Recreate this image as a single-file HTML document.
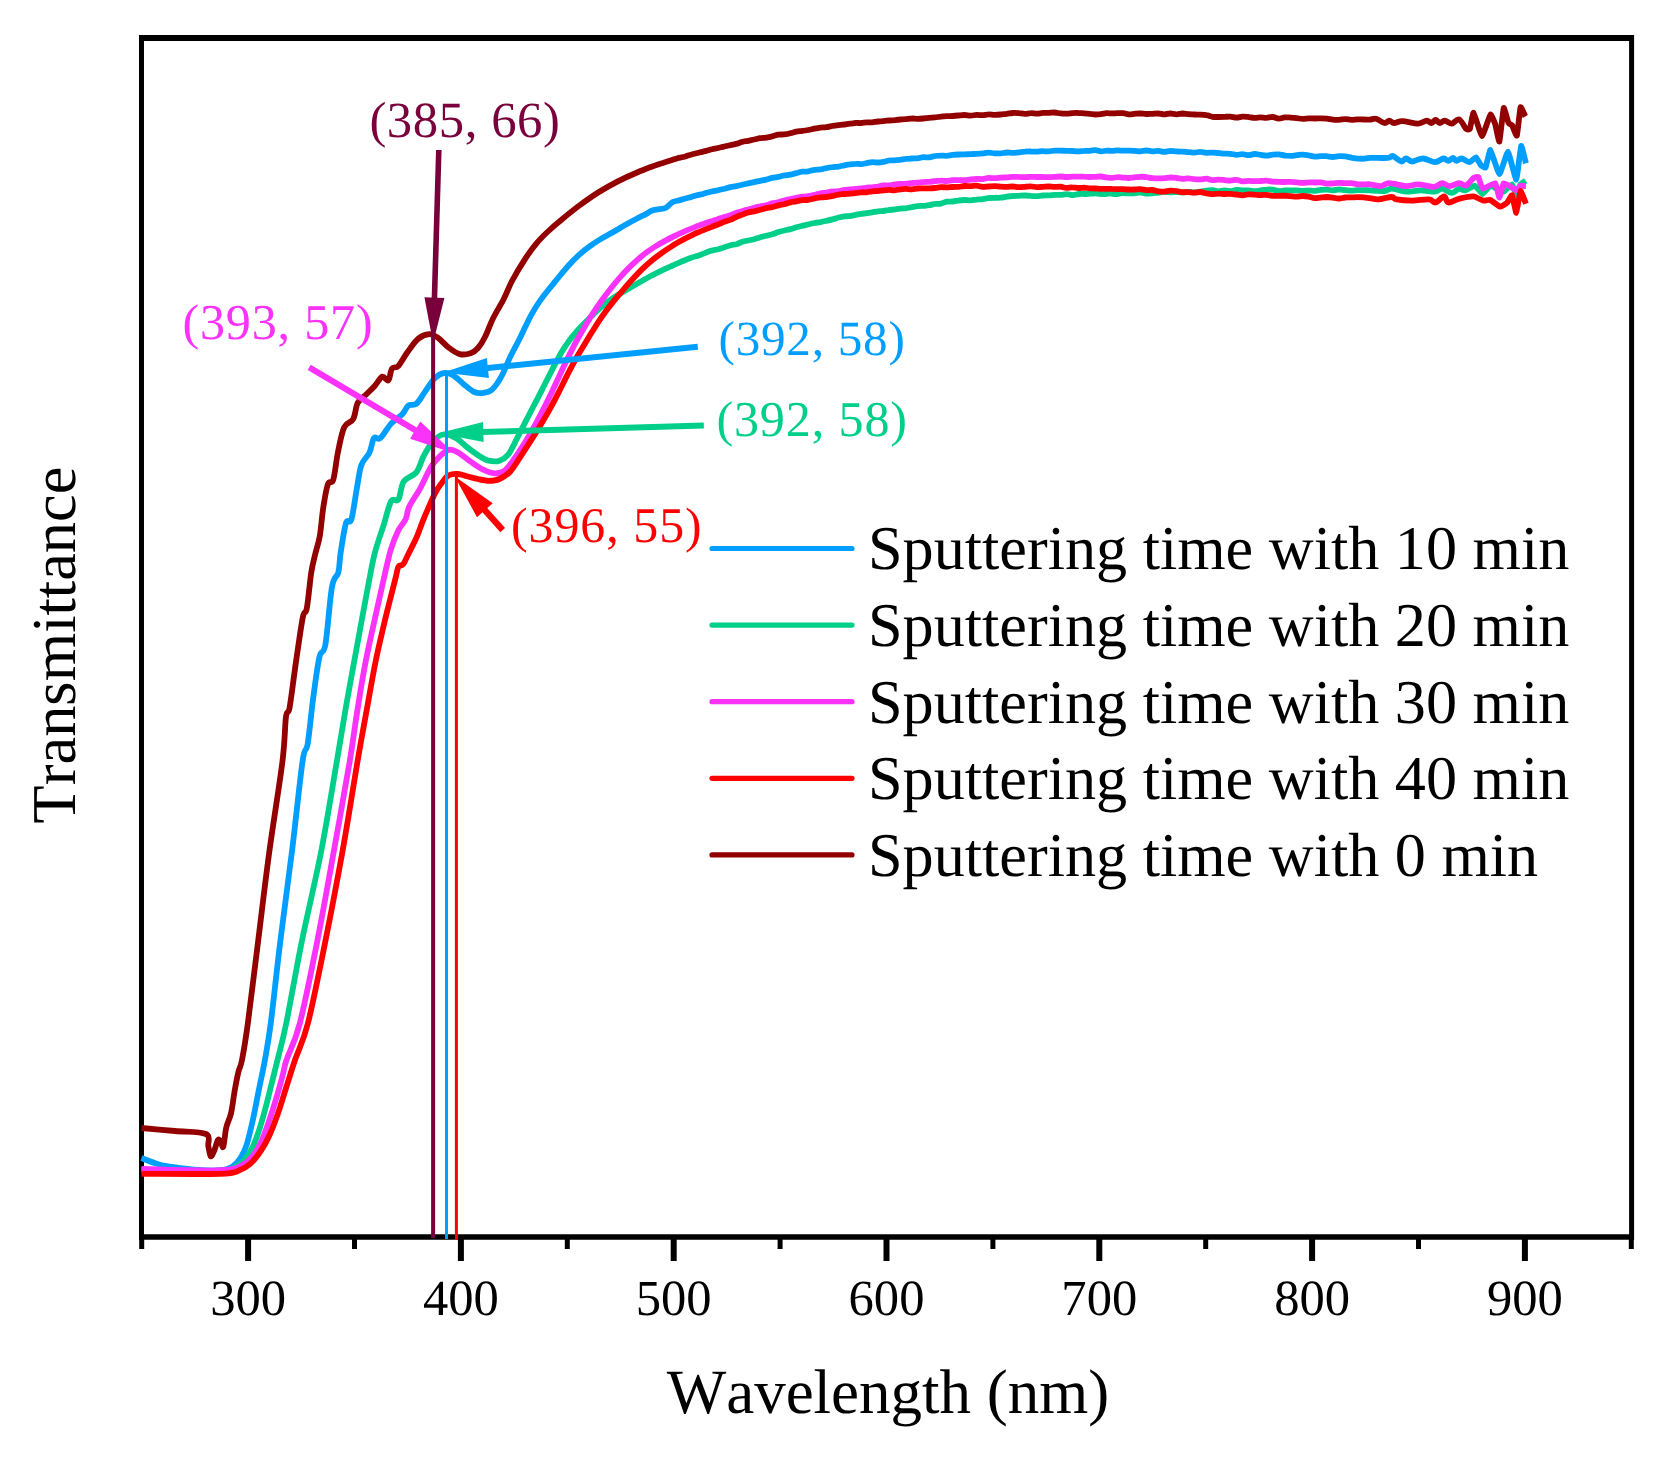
<!DOCTYPE html>
<html lang="en"><head><meta charset="utf-8"><title>Transmittance vs Wavelength</title>
<style>html,body{margin:0;padding:0;background:#fff}body{width:1661px;height:1458px;overflow:hidden}</style>
</head><body>
<svg width="1661" height="1458" viewBox="0 0 1661 1458" style="display:block;font-family:'Liberation Serif','Times New Roman',serif;font-kerning:none" text-rendering="geometricPrecision">
<rect width="1661" height="1458" fill="#fff"/>
<path d="M139,38H1634" stroke="#000" stroke-width="6" fill="none"/>
<path d="M141.5,35V1240" stroke="#000" stroke-width="5" fill="none"/>
<path d="M1631.6,35V1240" stroke="#000" stroke-width="5" fill="none"/>
<path d="M139,1237H1634" stroke="#000" stroke-width="5.5" fill="none"/>
<path d="M141.4,1158.1C144.5,1159.2 154.0,1163.2 160.1,1164.8C166.2,1166.4 171.2,1166.9 178.2,1167.8C185.2,1168.7 195.2,1169.8 202.2,1170.2C209.2,1170.6 215.3,1170.8 220.3,1170.2C225.3,1169.6 228.9,1168.7 232.3,1166.6C235.7,1164.5 238.4,1161.2 240.8,1157.5C243.2,1153.8 244.8,1150.5 246.8,1144.3C248.8,1138.1 250.8,1129.2 252.8,1120.2C254.8,1111.2 256.8,1100.1 258.8,1090.1C260.8,1080.1 262.9,1071.2 264.9,1060.0C266.9,1048.8 268.2,1042.9 270.8,1023.0C273.4,1003.1 276.8,969.4 280.4,940.6C283.9,911.8 288.4,880.2 292.1,850.3C295.8,820.4 300.0,778.8 302.6,761.0C305.2,743.2 305.9,754.2 307.7,743.8C309.4,733.4 311.2,713.2 313.1,698.7C315.1,684.2 317.3,666.1 319.4,657.1C321.4,648.1 323.3,656.2 325.4,644.5C327.5,632.8 329.8,598.8 332.0,586.7C334.2,574.7 337.0,577.8 338.4,572.2C339.8,566.6 339.3,561.2 340.6,553.0C341.9,544.8 344.2,528.6 346.0,523.0C347.8,517.4 349.6,525.1 351.4,519.4C353.2,513.7 355.1,497.7 356.8,488.7C358.5,479.7 359.2,471.2 361.3,465.2C363.4,459.2 367.4,457.0 369.5,452.5C371.6,448.0 372.2,440.5 374.0,438.1C375.8,435.7 377.4,440.5 380.3,438.1C383.2,435.7 387.5,427.5 391.1,423.6C394.7,419.7 399.1,417.6 402.0,414.6C404.9,411.6 405.9,407.4 408.3,405.6C410.7,403.8 413.5,406.2 416.4,403.8C419.2,401.4 422.4,395.3 425.4,391.1C428.4,386.9 431.5,381.5 434.5,378.5C437.5,375.5 440.5,373.7 443.5,373.1C446.5,372.5 449.2,373.1 452.5,374.9C455.8,376.7 459.8,381.0 463.4,383.9C467.0,386.8 470.9,390.5 474.2,392.0C477.5,393.5 480.2,393.3 483.2,392.9C486.2,392.4 489.3,392.0 492.3,389.3C495.3,386.6 498.3,382.1 501.3,376.7C504.3,371.3 507.5,362.7 510.3,356.8C513.1,350.9 515.8,346.3 518.2,341.5C520.7,336.6 522.8,332.0 524.9,327.6C527.1,323.3 528.9,319.2 531.0,315.4C533.1,311.5 535.2,308.0 537.5,304.5C539.7,301.1 542.0,298.0 544.5,294.8C546.9,291.6 549.5,288.5 552.1,285.2C554.8,281.9 557.6,278.4 560.6,274.9C563.5,271.4 566.6,267.7 569.7,264.3C572.8,260.9 576.1,257.6 579.3,254.7C582.5,251.8 585.7,249.2 588.9,246.9C592.1,244.5 595.3,242.4 598.5,240.4C601.7,238.4 605.0,236.6 608.2,234.8C611.4,233.0 614.6,231.2 617.8,229.4C621.0,227.5 624.2,225.6 627.4,223.8C630.6,222.0 633.9,220.2 637.1,218.5C640.3,216.8 644.3,214.9 646.7,213.6C649.1,212.3 649.5,211.4 651.5,210.7C653.5,210.0 656.3,209.7 658.8,209.2C661.2,208.8 663.7,209.0 666.0,207.8C668.3,206.6 670.5,203.2 672.7,202.0C674.9,200.8 676.9,200.9 679.0,200.4C681.0,199.8 683.1,199.1 685.2,198.5C687.3,197.9 689.3,197.6 691.3,197.0C693.3,196.5 695.3,195.6 697.4,195.1C699.4,194.5 701.3,194.3 703.5,193.8C705.7,193.2 708.2,192.3 710.5,191.7C712.9,191.1 715.2,190.8 717.6,190.3C719.9,189.8 722.5,189.2 724.6,188.7C726.8,188.1 728.6,187.6 730.5,187.1C732.5,186.7 734.5,186.6 736.4,186.2C738.4,185.8 740.4,185.3 742.3,184.8C744.3,184.3 746.2,183.7 748.2,183.3C750.2,182.9 752.2,182.5 754.2,182.1C756.2,181.7 758.2,181.2 760.2,180.8C762.2,180.4 764.2,180.1 766.2,179.6C768.2,179.1 770.2,178.4 772.2,177.9C774.3,177.4 776.3,177.3 778.3,176.9C780.3,176.5 782.3,175.7 784.3,175.4C786.3,175.0 788.3,175.1 790.3,174.7C792.3,174.4 794.3,173.6 796.3,173.1C798.3,172.6 800.3,172.0 802.3,171.7C804.3,171.5 806.3,171.8 808.3,171.4C810.4,171.1 812.4,170.1 814.4,169.8C816.4,169.4 818.4,169.7 820.4,169.4C822.4,169.1 824.4,168.4 826.4,168.1C828.4,167.7 830.4,167.4 832.5,167.2C834.5,166.9 836.5,166.9 838.5,166.6C840.5,166.3 842.6,165.7 844.5,165.3C846.4,164.9 848.2,164.5 850.0,164.3C851.9,164.0 853.8,163.8 855.6,163.8C857.5,163.7 859.3,164.2 861.1,164.1C863.0,164.0 864.9,163.4 866.7,163.1C868.6,162.8 870.4,162.2 872.2,162.1C874.1,162.0 875.9,162.5 877.8,162.5C879.6,162.5 881.5,162.3 883.4,161.9C885.2,161.6 887.0,160.8 888.9,160.5C890.8,160.2 892.6,160.4 894.5,160.3C896.3,160.2 898.1,160.0 900.0,159.8C901.9,159.6 903.9,159.1 905.8,158.9C907.8,158.6 909.7,158.6 911.7,158.5C913.6,158.4 915.6,158.5 917.5,158.3C919.4,158.1 921.4,157.4 923.3,157.2C925.3,157.1 927.2,157.5 929.2,157.3C931.1,157.1 933.1,156.3 935.0,156.0C936.9,155.7 938.9,155.6 940.8,155.6C942.8,155.6 944.7,155.9 946.7,155.8C948.6,155.7 950.5,155.1 952.5,154.9C954.5,154.7 956.5,154.6 958.5,154.5C960.5,154.4 962.5,154.3 964.5,154.3C966.6,154.2 968.6,154.3 970.6,154.2C972.6,154.1 974.6,153.9 976.6,153.8C978.6,153.7 980.6,153.6 982.6,153.4C984.6,153.2 986.6,152.7 988.6,152.7C990.6,152.7 992.6,153.2 994.7,153.3C996.7,153.4 998.7,153.5 1000.7,153.4C1002.7,153.2 1004.7,152.6 1006.7,152.5C1008.7,152.4 1010.7,152.9 1012.7,152.9C1014.7,152.9 1016.7,152.5 1018.7,152.3C1020.7,152.1 1022.7,151.8 1024.8,151.7C1026.8,151.5 1028.8,151.4 1030.8,151.5C1032.8,151.5 1034.8,151.7 1036.8,151.7C1038.8,151.6 1040.8,151.2 1042.8,151.2C1044.8,151.2 1046.7,151.5 1048.7,151.4C1050.7,151.3 1052.6,150.7 1054.6,150.6C1056.6,150.4 1058.5,150.6 1060.5,150.7C1062.5,150.7 1064.4,150.8 1066.4,150.8C1068.4,150.9 1070.3,150.9 1072.3,151.0C1074.3,151.1 1076.2,151.4 1078.2,151.3C1080.2,151.3 1082.1,150.9 1084.1,150.9C1086.1,150.8 1088.1,150.9 1090.0,150.8C1091.9,150.7 1093.7,150.0 1095.5,150.1C1097.4,150.2 1099.2,151.2 1101.0,151.3C1102.9,151.4 1104.7,150.8 1106.6,150.7C1108.4,150.6 1110.3,150.9 1112.1,150.8C1113.9,150.8 1115.8,150.4 1117.6,150.4C1119.5,150.4 1121.3,150.6 1123.2,150.7C1125.0,150.7 1126.8,150.6 1128.7,150.6C1130.5,150.6 1132.3,150.7 1134.2,150.8C1136.1,150.9 1138.2,151.4 1140.2,151.4C1142.2,151.3 1144.2,150.5 1146.2,150.5C1148.3,150.5 1150.3,151.2 1152.3,151.3C1154.3,151.4 1156.3,150.8 1158.3,150.9C1160.3,151.0 1162.3,151.8 1164.3,151.8C1166.3,151.8 1168.3,151.0 1170.3,150.9C1172.3,150.9 1174.3,151.3 1176.4,151.4C1178.4,151.6 1180.4,151.6 1182.4,151.7C1184.4,151.8 1186.4,152.0 1188.4,152.1C1190.4,152.2 1192.4,152.6 1194.4,152.6C1196.4,152.5 1198.4,151.8 1200.4,151.9C1202.4,151.9 1204.4,152.7 1206.5,152.8C1208.5,152.9 1210.5,152.6 1212.5,152.6C1214.5,152.6 1216.5,152.8 1218.5,153.0C1220.5,153.1 1222.5,153.5 1224.5,153.6C1226.5,153.7 1228.5,153.6 1230.5,153.8C1232.5,154.0 1234.5,154.7 1236.5,154.8C1238.5,154.9 1240.5,154.1 1242.5,154.2C1244.6,154.2 1246.6,155.2 1248.6,155.2C1250.6,155.2 1252.6,154.1 1254.6,154.0C1256.6,153.9 1258.6,154.5 1260.6,154.8C1262.6,155.1 1264.6,155.6 1266.6,155.6C1268.6,155.6 1270.6,154.9 1272.6,154.7C1274.6,154.5 1276.6,154.3 1278.7,154.4C1280.7,154.6 1282.7,155.3 1284.7,155.5C1286.7,155.8 1288.7,155.9 1290.7,155.9C1292.7,155.8 1294.7,155.4 1296.7,155.2C1298.7,155.0 1300.7,154.6 1302.7,154.6C1304.7,154.6 1306.7,155.0 1308.7,155.4C1310.7,155.7 1312.7,156.5 1314.8,156.6C1316.8,156.7 1318.8,156.2 1320.8,156.1C1322.8,156.0 1324.8,156.1 1326.8,156.2C1328.8,156.4 1330.8,157.0 1332.8,157.0C1334.8,157.0 1336.9,156.3 1339.0,156.2C1341.1,156.1 1343.1,156.2 1345.2,156.4C1347.3,156.7 1349.3,157.3 1351.4,157.7C1353.5,158.0 1355.5,158.4 1357.6,158.6C1359.7,158.7 1361.7,158.9 1363.8,158.7C1365.9,158.6 1366.0,158.0 1370.0,157.9C1374.0,157.8 1384.3,158.2 1388.1,157.9C1391.9,157.6 1390.7,155.5 1392.9,156.1C1395.1,156.7 1399.1,161.1 1401.3,161.5C1403.5,161.9 1404.3,158.5 1406.1,158.5C1407.9,158.5 1409.3,161.5 1412.1,161.5C1414.9,161.5 1419.2,158.4 1423.0,158.5C1426.8,158.6 1431.6,162.1 1435.0,162.1C1438.4,162.1 1441.2,158.7 1443.4,158.5C1445.6,158.3 1446.7,161.0 1448.3,160.9C1449.9,160.8 1451.7,157.9 1453.1,157.9C1454.5,157.9 1455.3,160.8 1456.7,160.9C1458.1,161.0 1459.3,158.3 1461.5,158.5C1463.7,158.7 1467.5,162.3 1469.9,162.1C1470.8,162.0 1475.3,157.1 1476.0,157.3C1476.7,157.5 1480.2,164.5 1480.8,165.1C1481.4,165.7 1485.0,168.4 1485.6,167.5C1486.2,166.6 1489.6,149.7 1490.4,150.1C1491.2,150.5 1498.4,174.1 1499.4,174.2C1500.5,174.3 1506.9,151.6 1507.9,151.9C1508.9,152.2 1515.5,180.0 1516.3,179.6C1517.1,179.2 1520.5,146.9 1521.1,145.9C1521.7,144.9 1525.6,162.3 1525.9,163.3" fill="none" stroke="#009EFF" stroke-width="5.8" stroke-linejoin="round" stroke-linecap="butt"/>
<path d="M141.5,1170.0C151.2,1170.2 185.6,1171.5 200.0,1171.5C214.4,1171.5 222.0,1170.8 228.0,1170.0C234.0,1169.2 233.3,1168.2 236.0,1166.5C238.7,1164.8 241.6,1163.3 244.4,1160.0C247.2,1156.7 250.2,1152.1 252.8,1146.7C255.4,1141.3 257.8,1134.2 260.0,1127.4C262.2,1120.6 264.1,1113.4 266.1,1105.8C268.1,1098.2 270.2,1089.3 272.1,1081.7C274.0,1074.1 275.1,1069.8 277.5,1060.0C279.9,1050.2 282.2,1042.9 286.3,1023.0C290.4,1003.1 296.1,969.4 302.0,940.6C307.9,911.8 315.6,880.2 321.4,850.3C327.2,820.4 332.6,786.3 336.9,761.0C341.2,735.7 344.0,718.1 347.4,698.7C350.8,679.3 354.0,662.6 357.3,644.5C360.6,626.4 364.4,605.3 367.3,590.3C370.2,575.2 371.8,565.0 374.5,554.2C377.2,543.4 380.7,534.3 383.5,525.5C386.3,516.7 388.6,505.6 391.1,501.3C393.6,497.0 396.3,502.8 398.4,499.5C400.5,496.2 400.8,485.9 403.8,481.4C406.8,476.9 413.1,476.6 416.4,472.4C419.7,468.2 420.9,461.3 423.6,456.2C426.3,451.1 429.4,445.3 432.7,441.7C436.0,438.1 439.6,435.1 443.5,434.5C447.4,433.9 452.2,436.0 456.1,438.1C460.0,440.2 463.1,444.1 467.0,447.1C470.9,450.1 476.0,453.9 479.6,456.2C483.2,458.5 485.4,459.9 488.7,460.7C492.0,461.4 496.2,461.8 499.5,460.7C502.8,459.6 505.5,458.2 508.5,454.3C511.5,450.4 514.5,443.1 517.4,437.6C520.3,432.0 523.0,426.6 525.8,421.1C528.6,415.7 531.3,410.4 534.2,404.9C537.1,399.4 540.1,393.5 542.9,388.0C545.8,382.4 548.6,376.6 551.2,371.6C553.8,366.5 556.1,361.9 558.5,357.7C560.8,353.4 563.0,349.6 565.5,346.0C567.9,342.3 570.4,339.0 573.1,335.6C575.9,332.3 578.8,329.1 581.9,325.8C585.0,322.5 588.3,319.2 591.7,316.0C595.0,312.8 598.5,309.4 601.9,306.6C605.3,303.7 608.7,301.0 612.0,298.7C615.3,296.4 618.4,294.6 621.6,292.7C624.8,290.8 627.8,289.1 631.0,287.2C634.3,285.4 637.6,283.4 641.0,281.5C644.3,279.6 647.8,277.6 651.2,275.8C654.5,274.0 657.8,272.4 661.1,270.8C664.4,269.3 667.6,267.8 670.8,266.4C674.0,264.9 677.1,263.5 680.4,262.1C683.8,260.7 688.0,258.8 691.0,257.8C693.9,256.7 695.7,256.5 698.1,255.7C700.5,254.9 702.9,253.8 705.2,252.9C707.5,252.1 709.6,251.3 711.8,250.6C713.9,250.0 716.1,249.8 718.3,249.2C720.5,248.6 722.8,247.8 724.9,247.1C726.9,246.4 728.8,245.7 730.7,245.2C732.7,244.7 734.6,244.7 736.5,244.2C738.5,243.6 740.4,242.4 742.4,241.8C744.3,241.2 746.2,240.9 748.2,240.5C750.2,240.1 752.2,239.7 754.2,239.2C756.2,238.6 758.2,237.9 760.2,237.3C762.2,236.8 764.2,236.3 766.2,235.8C768.2,235.3 770.2,235.0 772.2,234.3C774.3,233.7 776.3,232.7 778.3,232.0C780.3,231.4 782.3,230.9 784.3,230.5C786.3,230.0 788.3,229.7 790.3,229.1C792.3,228.6 794.3,227.9 796.3,227.3C798.3,226.7 800.3,226.2 802.3,225.7C804.3,225.3 806.3,224.8 808.3,224.4C810.4,223.9 812.4,223.3 814.4,223.0C816.4,222.6 818.4,222.5 820.4,222.2C822.4,221.8 824.4,221.3 826.4,220.8C828.4,220.4 830.4,220.0 832.5,219.4C834.5,218.9 836.5,218.0 838.5,217.5C840.5,217.0 842.6,216.6 844.5,216.4C846.4,216.2 848.2,216.3 850.0,216.0C851.9,215.8 853.8,215.2 855.6,214.9C857.5,214.5 859.3,214.1 861.1,213.8C863.0,213.5 864.9,213.5 866.7,213.2C868.6,213.0 870.4,212.7 872.2,212.4C874.1,212.1 875.9,211.5 877.8,211.3C879.6,211.0 881.5,211.2 883.4,211.0C885.2,210.8 887.0,210.3 888.9,210.0C890.8,209.8 892.6,209.7 894.5,209.5C896.3,209.2 898.1,208.8 900.0,208.6C901.9,208.4 903.9,208.5 905.8,208.3C907.8,208.0 909.7,207.5 911.7,207.2C913.6,206.8 915.6,206.3 917.5,206.1C919.4,205.9 921.4,206.0 923.3,205.9C925.3,205.7 927.2,205.6 929.2,205.2C931.1,204.9 933.1,204.1 935.0,203.9C936.9,203.6 938.9,204.0 940.8,203.6C942.8,203.2 944.7,202.1 946.7,201.7C948.6,201.4 950.5,201.7 952.5,201.5C954.5,201.3 956.5,200.8 958.5,200.5C960.5,200.3 962.5,200.1 964.5,200.0C966.6,200.0 968.6,200.5 970.6,200.4C972.6,200.4 974.6,199.8 976.6,199.6C978.6,199.4 980.6,199.4 982.6,199.1C984.6,198.8 986.6,198.3 988.6,198.0C990.6,197.8 992.6,197.8 994.7,197.8C996.7,197.7 998.7,197.9 1000.7,197.7C1002.7,197.6 1004.7,197.0 1006.7,196.7C1008.7,196.4 1010.7,196.1 1012.7,196.0C1014.7,195.8 1016.7,195.9 1018.7,195.8C1020.7,195.7 1022.7,195.5 1024.8,195.5C1026.8,195.5 1028.8,195.7 1030.8,195.9C1032.8,196.0 1034.8,196.2 1036.8,196.2C1038.8,196.1 1040.8,195.6 1042.8,195.5C1044.8,195.4 1046.8,195.5 1048.8,195.4C1050.8,195.3 1052.8,195.0 1054.9,194.9C1056.9,194.9 1058.9,195.0 1060.9,194.9C1062.9,194.7 1064.9,194.2 1066.9,194.2C1068.9,194.2 1070.9,195.1 1072.9,195.1C1075.0,195.0 1077.0,194.2 1079.0,194.0C1081.0,193.8 1083.0,194.1 1085.0,194.0C1087.0,193.9 1089.1,193.6 1091.2,193.5C1093.2,193.5 1095.2,193.4 1097.3,193.5C1099.3,193.7 1101.4,194.2 1103.5,194.2C1105.5,194.2 1107.5,193.4 1109.6,193.4C1111.6,193.4 1113.7,194.2 1115.8,194.2C1117.8,194.1 1119.9,193.4 1121.9,193.2C1124.0,193.1 1126.0,193.3 1128.0,193.3C1130.1,193.3 1132.2,193.4 1134.2,193.3C1136.2,193.2 1138.2,192.4 1140.2,192.5C1142.2,192.5 1144.2,193.5 1146.2,193.6C1148.3,193.7 1150.3,193.4 1152.3,193.3C1154.3,193.1 1156.3,192.8 1158.3,192.6C1160.3,192.4 1162.3,191.9 1164.3,191.9C1166.3,191.8 1168.3,192.3 1170.3,192.3C1172.3,192.3 1174.3,191.9 1176.4,191.9C1178.4,192.0 1180.4,192.5 1182.4,192.5C1184.4,192.5 1186.4,191.8 1188.4,191.8C1190.4,191.8 1192.4,192.3 1194.4,192.3C1196.4,192.3 1198.4,192.0 1200.4,191.7C1202.4,191.5 1204.4,191.0 1206.5,190.7C1208.5,190.5 1210.5,190.0 1212.5,190.1C1214.5,190.2 1216.5,191.3 1218.5,191.3C1220.5,191.4 1222.5,190.4 1224.5,190.4C1226.5,190.4 1228.5,191.3 1230.5,191.2C1232.5,191.1 1234.5,189.9 1236.5,189.8C1238.5,189.7 1240.5,190.3 1242.5,190.4C1244.6,190.5 1246.6,190.2 1248.6,190.4C1250.6,190.5 1252.6,191.2 1254.6,191.2C1256.6,191.3 1258.6,190.7 1260.6,190.4C1262.6,190.1 1264.6,189.7 1266.6,189.6C1268.6,189.4 1270.6,189.4 1272.6,189.6C1274.6,189.8 1276.6,190.9 1278.7,191.0C1280.7,191.2 1282.7,190.6 1284.7,190.5C1286.7,190.4 1288.7,190.4 1290.7,190.3C1292.7,190.3 1294.7,190.3 1296.7,190.4C1298.7,190.5 1300.7,190.9 1302.7,190.9C1304.7,190.9 1306.7,190.6 1308.7,190.6C1310.7,190.5 1312.7,190.9 1314.8,190.8C1316.8,190.7 1318.8,190.1 1320.8,189.9C1322.8,189.7 1324.8,189.5 1326.8,189.6C1328.8,189.7 1330.8,190.4 1332.8,190.4C1334.8,190.4 1336.9,189.5 1339.0,189.4C1341.1,189.4 1343.1,189.9 1345.2,190.1C1347.3,190.3 1349.3,190.7 1351.4,190.7C1353.5,190.7 1355.5,190.3 1357.6,190.2C1359.7,190.1 1361.7,190.1 1363.8,190.1C1365.9,190.1 1366.6,190.2 1370.0,190.4C1373.4,190.6 1380.8,191.3 1384.4,191.0C1388.0,190.7 1388.1,188.5 1391.7,188.6C1395.3,188.7 1401.3,191.3 1406.1,191.6C1410.9,191.9 1415.8,190.4 1420.6,190.4C1425.4,190.4 1431.4,191.9 1435.0,191.6C1438.6,191.3 1439.4,188.4 1442.2,188.6C1445.0,188.8 1449.1,192.8 1451.9,192.8C1454.7,192.8 1456.9,189.0 1459.1,188.6C1461.3,188.2 1462.5,190.9 1465.1,190.4C1466.0,190.2 1473.8,185.4 1474.8,185.6C1475.8,185.8 1481.7,194.0 1482.6,194.0C1483.5,194.0 1489.4,185.8 1490.4,185.6C1491.4,185.4 1498.6,190.0 1499.4,190.4C1500.2,190.8 1502.9,192.0 1503.7,191.6C1504.5,191.2 1511.3,184.2 1512.1,184.4C1512.9,184.6 1515.8,195.2 1516.3,195.2C1516.8,195.2 1519.9,185.3 1520.5,184.4C1521.1,183.5 1525.6,181.0 1525.9,180.8" fill="none" stroke="#00CF8A" stroke-width="5.8" stroke-linejoin="round" stroke-linecap="butt"/>
<path d="M141.5,1169.0C151.2,1169.2 186.1,1170.3 200.0,1170.5C213.9,1170.7 218.6,1170.5 225.0,1170.0C231.4,1169.5 234.2,1169.1 238.4,1167.2C242.6,1165.3 246.8,1162.5 250.4,1158.7C254.0,1154.9 257.0,1150.3 260.0,1144.3C263.0,1138.3 265.7,1130.6 268.5,1122.6C271.3,1114.6 274.5,1104.1 276.9,1096.1C279.3,1088.1 281.3,1080.4 282.9,1074.4C284.5,1068.4 283.7,1068.6 286.5,1060.0C289.3,1051.4 294.8,1042.9 299.9,1023.0C305.0,1003.1 311.7,969.4 317.4,940.6C323.1,911.8 328.6,880.2 334.0,850.3C339.4,820.4 346.1,783.3 349.8,761.0C353.5,738.7 353.8,733.1 356.4,716.7C359.0,700.3 362.0,680.5 365.5,662.5C369.0,644.5 373.9,623.4 377.2,608.4C380.5,593.4 383.0,582.1 385.3,572.2C387.6,562.3 388.8,556.0 391.0,549.0C393.2,542.0 396.0,535.1 398.4,530.2C400.8,525.3 403.8,523.3 405.6,519.4C407.4,515.5 406.8,511.8 409.2,506.7C411.6,501.6 416.4,495.3 420.0,488.7C423.6,482.1 427.6,472.4 430.9,467.0C434.2,461.6 436.9,459.1 439.9,456.2C442.9,453.3 445.9,450.4 448.9,449.8C451.9,449.2 454.4,450.5 458.0,452.5C461.6,454.5 466.4,458.7 470.6,461.6C474.8,464.5 479.3,467.8 483.2,469.7C487.1,471.6 490.5,473.1 494.1,473.3C497.7,473.5 501.1,473.6 504.9,470.6C508.6,467.6 512.6,461.2 516.6,455.3C520.6,449.5 525.0,442.6 529.1,435.6C533.3,428.5 537.6,420.2 541.5,412.8C545.3,405.4 548.9,398.0 552.1,391.4C555.3,384.8 558.0,378.7 560.6,373.2C563.2,367.6 565.5,362.7 567.8,358.0C570.1,353.2 572.3,349.0 574.6,344.6C576.9,340.2 579.3,335.9 581.8,331.7C584.3,327.4 586.9,323.0 589.4,319.0C591.9,314.9 594.5,311.0 596.9,307.4C599.3,303.8 601.6,300.6 603.9,297.5C606.2,294.3 608.3,291.5 610.8,288.5C613.2,285.4 615.8,282.2 618.5,279.0C621.3,275.8 624.4,272.4 627.5,269.2C630.6,266.1 633.9,263.0 637.1,260.1C640.3,257.3 643.5,254.7 646.7,252.3C649.9,249.9 653.1,247.9 656.3,245.9C659.5,243.9 662.8,242.1 666.0,240.4C669.2,238.7 672.4,237.0 675.6,235.5C678.8,233.9 682.0,232.4 685.2,231.1C688.4,229.7 692.3,228.1 694.9,227.1C697.4,226.1 698.6,225.5 700.4,224.9C702.3,224.2 704.1,223.6 706.0,222.9C707.9,222.3 709.9,221.8 711.8,221.2C713.7,220.6 715.6,219.9 717.5,219.3C719.5,218.6 721.3,217.9 723.3,217.2C725.3,216.6 727.4,216.3 729.5,215.6C731.6,214.9 733.7,213.9 735.7,213.1C737.8,212.4 739.9,211.8 742.0,211.2C744.0,210.6 746.2,210.1 748.2,209.5C750.2,208.9 752.2,208.3 754.2,207.8C756.2,207.2 758.2,206.8 760.2,206.4C762.2,205.9 764.2,205.8 766.2,205.3C768.2,204.8 770.2,203.9 772.2,203.3C774.3,202.8 776.3,202.7 778.3,202.2C780.3,201.7 782.3,201.0 784.3,200.5C786.3,200.0 788.3,199.5 790.3,199.1C792.3,198.6 794.3,198.2 796.3,197.8C798.3,197.4 800.3,197.0 802.3,196.7C804.3,196.5 806.3,196.4 808.3,196.1C810.4,195.8 812.4,195.4 814.4,194.9C816.4,194.4 818.4,193.7 820.4,193.3C822.4,193.0 824.4,192.9 826.4,192.6C828.4,192.3 830.4,191.7 832.5,191.5C834.5,191.2 836.5,191.4 838.5,191.2C840.5,190.9 842.6,190.1 844.5,189.8C846.4,189.5 848.2,189.7 850.0,189.5C851.9,189.4 853.8,189.1 855.6,188.9C857.5,188.7 859.3,188.6 861.1,188.4C863.0,188.2 864.9,187.9 866.7,187.7C868.6,187.5 870.4,187.5 872.2,187.3C874.1,187.1 875.9,186.9 877.8,186.6C879.6,186.2 881.5,185.6 883.4,185.4C885.2,185.2 887.0,185.6 888.9,185.5C890.8,185.3 892.6,184.7 894.5,184.5C896.3,184.2 898.1,184.0 900.0,183.9C901.9,183.8 903.9,183.9 905.8,183.8C907.8,183.6 909.7,183.3 911.7,183.1C913.6,183.0 915.6,182.8 917.5,182.6C919.4,182.4 921.4,182.2 923.3,182.1C925.3,182.0 927.2,181.9 929.2,181.8C931.1,181.6 933.1,181.4 935.0,181.2C936.9,181.0 938.9,180.6 940.8,180.6C942.8,180.5 944.7,181.0 946.7,181.0C948.6,180.9 950.5,180.3 952.5,180.2C954.5,180.1 956.5,180.3 958.5,180.2C960.5,180.2 962.5,180.3 964.5,180.2C966.6,180.0 968.6,179.7 970.6,179.5C972.6,179.3 974.6,179.1 976.6,179.0C978.6,178.9 980.6,179.1 982.6,179.0C984.6,178.8 986.6,178.0 988.6,177.9C990.6,177.8 992.6,178.3 994.7,178.2C996.7,178.2 998.7,177.8 1000.7,177.6C1002.7,177.5 1004.7,177.5 1006.7,177.4C1008.7,177.3 1010.7,177.0 1012.7,176.9C1014.7,176.8 1016.7,176.8 1018.7,176.9C1020.7,176.9 1022.7,177.2 1024.8,177.2C1026.8,177.2 1028.8,176.8 1030.8,176.8C1032.8,176.8 1034.8,177.0 1036.8,177.0C1038.8,177.0 1040.8,177.0 1042.8,177.0C1044.8,177.0 1046.7,177.2 1048.7,177.1C1050.7,177.1 1052.6,177.0 1054.6,176.9C1056.6,176.7 1058.5,176.5 1060.5,176.5C1062.5,176.5 1064.4,177.0 1066.4,177.0C1068.4,177.0 1070.3,176.7 1072.3,176.6C1074.3,176.6 1076.2,176.6 1078.2,176.6C1080.2,176.6 1082.1,176.5 1084.1,176.6C1086.1,176.6 1088.1,177.0 1090.0,177.0C1091.9,177.0 1093.7,176.9 1095.5,176.9C1097.4,176.8 1099.2,176.4 1101.0,176.5C1102.9,176.6 1104.7,177.1 1106.6,177.4C1108.4,177.6 1110.3,177.9 1112.1,177.9C1113.9,177.8 1115.8,177.1 1117.6,177.1C1119.5,177.0 1121.3,177.5 1123.2,177.6C1125.0,177.8 1126.8,178.1 1128.7,178.0C1130.5,178.0 1132.3,177.6 1134.2,177.4C1136.1,177.2 1138.2,176.9 1140.2,176.8C1142.2,176.7 1144.2,176.8 1146.2,177.0C1148.3,177.3 1150.3,178.0 1152.3,178.2C1154.3,178.4 1156.3,178.3 1158.3,178.3C1160.3,178.3 1162.3,178.3 1164.3,178.1C1166.3,178.0 1168.3,177.5 1170.3,177.5C1172.3,177.4 1174.3,177.7 1176.4,178.0C1178.4,178.2 1180.4,178.7 1182.4,178.8C1184.4,178.9 1186.4,178.2 1188.4,178.3C1190.4,178.4 1192.4,179.1 1194.4,179.2C1196.4,179.4 1198.4,179.5 1200.4,179.4C1202.4,179.3 1204.4,178.6 1206.5,178.7C1208.5,178.8 1210.5,180.0 1212.5,180.1C1214.5,180.2 1216.5,179.6 1218.5,179.6C1220.5,179.6 1222.5,179.9 1224.5,180.1C1226.5,180.3 1228.5,180.7 1230.5,180.6C1232.5,180.6 1234.5,179.6 1236.5,179.8C1238.5,179.9 1240.5,181.2 1242.5,181.4C1244.6,181.6 1246.6,180.9 1248.6,180.9C1250.6,180.9 1252.6,181.2 1254.6,181.2C1256.6,181.3 1258.6,181.1 1260.6,181.0C1262.6,180.9 1264.6,180.6 1266.6,180.7C1268.6,180.8 1270.6,181.5 1272.6,181.6C1274.6,181.8 1276.6,181.7 1278.7,181.8C1280.7,181.9 1282.7,182.0 1284.7,182.0C1286.7,182.0 1288.7,181.8 1290.7,181.8C1292.7,181.9 1294.7,182.1 1296.7,182.3C1298.7,182.5 1300.7,182.9 1302.7,182.9C1304.7,182.9 1306.7,182.4 1308.7,182.4C1310.7,182.3 1312.7,182.5 1314.8,182.5C1316.8,182.5 1318.8,182.2 1320.8,182.4C1322.8,182.6 1324.8,183.4 1326.8,183.6C1328.8,183.7 1330.8,183.5 1332.8,183.4C1334.8,183.3 1336.9,182.8 1339.0,182.8C1341.1,182.8 1343.1,183.2 1345.2,183.2C1347.3,183.2 1349.3,182.9 1351.4,183.1C1353.5,183.2 1355.5,184.1 1357.6,184.4C1359.7,184.6 1361.7,184.3 1363.8,184.3C1365.9,184.4 1367.2,184.1 1370.0,184.4C1372.8,184.7 1377.6,186.4 1380.8,186.2C1384.0,186.0 1385.1,183.2 1389.3,183.2C1393.5,183.2 1401.3,186.0 1406.1,186.2C1410.9,186.4 1413.6,184.3 1418.2,184.4C1422.8,184.5 1429.8,187.0 1433.8,186.8C1437.8,186.6 1439.6,183.3 1442.2,183.2C1444.8,183.1 1446.7,186.2 1449.5,186.2C1452.3,186.2 1456.3,183.3 1459.1,183.2C1461.9,183.1 1463.9,186.5 1466.3,185.6C1467.2,185.3 1472.9,178.3 1473.6,177.8C1474.3,177.3 1477.9,176.6 1478.4,177.2C1478.9,177.8 1481.6,188.2 1482.6,188.6C1483.6,189.0 1494.2,182.7 1495.2,183.2C1496.2,183.7 1498.9,197.6 1499.4,197.6C1499.9,197.6 1503.1,183.9 1503.7,183.2C1504.3,182.5 1508.9,185.8 1509.7,186.2C1510.5,186.6 1515.7,190.4 1516.3,190.4C1516.9,190.4 1519.9,185.9 1520.5,185.6C1521.1,185.3 1525.6,186.2 1525.9,186.2" fill="none" stroke="#FA32FA" stroke-width="5.8" stroke-linejoin="round" stroke-linecap="butt"/>
<path d="M141.5,1173.8C154.6,1173.8 204.2,1174.3 220.3,1173.8C236.5,1173.3 233.4,1172.5 238.4,1170.8C243.4,1169.1 246.6,1167.0 250.4,1163.6C254.2,1160.2 258.0,1155.1 261.2,1150.3C264.4,1145.5 266.9,1140.9 269.7,1134.7C272.5,1128.5 275.3,1121.0 278.1,1113.0C280.9,1105.0 283.7,1095.3 286.5,1086.5C289.3,1077.7 291.4,1070.6 295.0,1060.0C298.6,1049.4 302.9,1042.9 308.0,1023.0C313.1,1003.1 319.7,969.4 325.5,940.6C331.3,911.8 337.3,880.2 342.7,850.3C348.1,820.4 353.8,783.3 357.6,761.0C361.4,738.7 362.5,733.1 365.5,716.7C368.5,700.3 372.4,677.5 375.4,662.5C378.4,647.5 381.1,636.8 383.5,626.4C385.9,616.0 387.8,608.8 389.9,600.4C392.0,592.0 394.6,581.9 396.0,576.3C397.4,570.7 397.2,568.7 398.4,566.7C399.6,564.7 401.6,566.3 403.2,564.3C404.8,562.3 405.8,559.1 408.0,554.7C410.2,550.3 414.0,543.2 416.4,537.8C418.8,532.4 420.4,527.1 422.4,522.1C424.4,517.1 426.3,512.7 428.5,507.7C430.7,502.7 433.3,496.4 435.7,492.0C438.1,487.6 440.7,484.3 442.9,481.5C445.1,478.7 446.4,476.4 448.9,475.2C451.4,473.9 455.0,473.8 458.0,474.0C461.0,474.2 463.7,475.5 467.0,476.3C470.3,477.1 474.2,478.2 477.8,479.0C481.4,479.8 485.1,480.8 488.7,480.8C492.3,480.8 495.9,480.6 499.5,479.0C503.1,477.4 506.4,475.9 510.3,471.5C514.2,467.1 518.8,459.1 523.1,452.6C527.4,446.1 531.9,439.1 536.1,432.4C540.3,425.6 544.5,418.6 548.1,412.1C551.8,405.7 555.0,399.5 558.0,393.6C561.0,387.8 563.6,382.3 566.2,377.1C568.8,372.0 571.4,367.1 573.8,362.6C576.3,358.1 578.7,354.1 580.9,350.2C583.2,346.4 585.3,343.0 587.4,339.5C589.5,336.0 591.5,332.8 593.6,329.4C595.7,326.1 597.8,322.7 600.1,319.4C602.3,316.1 604.7,312.8 607.1,309.5C609.6,306.3 612.2,303.0 614.9,299.7C617.6,296.4 620.4,293.0 623.4,289.6C626.3,286.2 629.4,282.6 632.5,279.3C635.6,275.9 638.8,272.5 641.9,269.4C645.1,266.3 648.3,263.3 651.5,260.7C654.7,258.0 658.0,255.6 661.2,253.3C664.4,251.0 667.6,248.9 670.8,246.9C674.0,244.8 677.1,243.0 680.4,241.1C683.8,239.3 688.1,237.1 691.1,235.7C694.0,234.2 695.8,233.3 698.2,232.3C700.6,231.2 703.0,230.3 705.3,229.4C707.6,228.5 709.7,227.8 711.9,226.9C714.0,226.1 716.2,225.2 718.4,224.3C720.6,223.4 722.9,222.3 725.0,221.5C727.0,220.8 728.8,220.4 730.8,219.6C732.7,218.8 734.6,217.7 736.6,216.8C738.5,216.0 740.5,215.3 742.4,214.6C744.3,213.8 746.2,213.0 748.2,212.5C750.2,212.0 752.2,211.7 754.2,211.3C756.2,210.8 758.2,210.4 760.2,209.8C762.2,209.3 764.2,208.6 766.2,208.1C768.2,207.7 770.2,207.5 772.2,207.1C774.3,206.6 776.3,205.9 778.3,205.4C780.3,205.0 782.3,204.8 784.3,204.3C786.3,203.8 788.3,202.9 790.3,202.4C792.3,201.9 794.3,201.7 796.3,201.3C798.3,200.9 800.3,200.4 802.3,200.1C804.3,199.9 806.3,200.1 808.3,199.8C810.4,199.6 812.4,198.8 814.4,198.4C816.4,198.0 818.4,197.7 820.4,197.4C822.4,197.2 824.4,197.3 826.4,197.0C828.4,196.8 830.4,196.4 832.5,196.0C834.5,195.5 836.5,194.9 838.5,194.6C840.5,194.2 842.6,194.2 844.5,194.0C846.4,193.8 848.2,193.7 850.0,193.6C851.9,193.5 853.8,193.4 855.6,193.2C857.5,193.0 859.3,192.4 861.1,192.3C863.0,192.1 864.9,192.4 866.7,192.3C868.6,192.1 870.4,191.5 872.2,191.3C874.1,191.1 875.9,191.2 877.8,191.0C879.6,190.8 881.5,190.5 883.4,190.3C885.2,190.1 887.0,189.9 888.9,189.9C890.8,189.9 892.6,190.4 894.5,190.3C896.3,190.2 898.1,189.5 900.0,189.3C901.9,189.1 903.9,188.9 905.8,188.9C907.8,188.9 909.7,189.4 911.7,189.3C913.6,189.3 915.6,188.6 917.5,188.5C919.4,188.3 921.4,188.4 923.3,188.4C925.3,188.4 927.2,188.5 929.2,188.4C931.1,188.4 933.1,188.2 935.0,188.0C936.9,187.8 938.9,187.2 940.8,187.1C942.8,187.0 944.7,187.4 946.7,187.4C948.6,187.4 950.5,187.1 952.5,187.0C954.5,186.9 956.5,187.0 958.5,186.9C960.5,186.7 962.6,186.1 964.6,186.0C966.6,185.9 968.6,186.1 970.6,186.1C972.6,186.1 974.6,185.6 976.6,185.7C978.6,185.8 980.6,186.7 982.6,186.8C984.6,186.9 986.6,186.6 988.7,186.5C990.7,186.4 992.7,186.2 994.7,186.2C996.7,186.2 998.7,186.5 1000.7,186.6C1002.7,186.7 1004.7,186.8 1006.7,186.8C1008.7,186.8 1010.7,186.4 1012.7,186.4C1014.7,186.5 1016.7,187.1 1018.7,187.2C1020.7,187.3 1022.7,187.0 1024.8,186.8C1026.8,186.6 1028.8,186.2 1030.8,186.3C1032.8,186.3 1034.8,187.1 1036.8,187.2C1038.8,187.3 1040.8,186.9 1042.8,186.8C1044.8,186.7 1046.7,186.4 1048.7,186.4C1050.7,186.5 1052.6,186.8 1054.6,186.9C1056.6,186.9 1058.5,186.6 1060.5,186.7C1062.5,186.9 1064.4,187.9 1066.4,187.9C1068.4,188.0 1070.3,187.2 1072.3,187.3C1074.3,187.3 1076.2,188.0 1078.2,188.0C1080.2,188.1 1082.1,187.6 1084.1,187.6C1086.1,187.7 1088.1,188.3 1090.0,188.4C1091.9,188.5 1093.7,188.4 1095.5,188.5C1097.4,188.6 1099.2,188.9 1101.0,188.9C1102.9,189.0 1104.7,188.9 1106.6,188.9C1108.4,188.9 1110.3,188.8 1112.1,188.9C1113.9,188.9 1115.8,189.0 1117.6,189.1C1119.5,189.1 1121.3,189.1 1123.2,189.1C1125.0,189.2 1126.8,189.4 1128.7,189.5C1130.5,189.6 1132.3,189.6 1134.2,189.5C1136.1,189.4 1138.2,189.1 1140.2,189.2C1142.2,189.3 1144.2,189.9 1146.2,190.1C1148.3,190.2 1150.3,189.8 1152.3,190.0C1154.3,190.2 1156.3,191.0 1158.3,191.3C1160.3,191.6 1162.3,191.8 1164.3,191.7C1166.3,191.6 1168.3,190.7 1170.3,190.6C1172.3,190.5 1174.3,190.7 1176.4,191.0C1178.4,191.3 1180.4,192.0 1182.4,192.2C1184.4,192.4 1186.4,192.1 1188.4,192.2C1190.4,192.3 1192.4,192.7 1194.4,192.6C1196.4,192.6 1198.4,191.9 1200.4,192.0C1202.4,192.1 1204.4,193.1 1206.5,193.4C1208.5,193.8 1210.5,194.1 1212.5,194.2C1214.5,194.2 1216.5,193.6 1218.5,193.6C1220.5,193.5 1222.5,193.9 1224.5,194.0C1226.5,194.1 1228.5,193.8 1230.5,193.9C1232.5,194.0 1234.5,194.3 1236.5,194.5C1238.5,194.7 1240.5,195.3 1242.5,195.3C1244.6,195.3 1246.6,194.4 1248.6,194.3C1250.6,194.2 1252.6,194.4 1254.6,194.6C1256.6,194.7 1258.6,195.1 1260.6,195.1C1262.6,195.1 1264.6,194.7 1266.6,194.8C1268.6,194.9 1270.6,195.7 1272.6,195.9C1274.6,196.0 1276.6,195.9 1278.7,195.8C1280.7,195.8 1282.7,195.7 1284.7,195.7C1286.7,195.8 1288.7,196.1 1290.7,196.2C1292.7,196.4 1294.7,196.7 1296.7,196.7C1298.7,196.7 1300.7,196.0 1302.7,196.0C1304.7,196.0 1306.7,196.3 1308.7,196.6C1310.7,197.0 1312.7,197.9 1314.8,198.1C1316.8,198.2 1318.8,197.6 1320.8,197.5C1322.8,197.3 1324.8,197.0 1326.8,197.0C1328.8,197.1 1330.8,197.3 1332.8,197.6C1334.8,197.9 1336.9,198.6 1339.0,198.5C1341.1,198.5 1343.1,197.7 1345.2,197.5C1347.3,197.3 1349.3,197.5 1351.4,197.4C1353.5,197.3 1355.5,197.1 1357.6,197.1C1359.7,197.1 1361.7,197.2 1363.8,197.4C1365.9,197.6 1367.6,197.9 1370.0,198.2C1372.4,198.5 1374.8,199.6 1378.4,199.4C1382.0,199.2 1388.7,197.0 1391.7,197.0C1394.7,197.0 1393.1,198.8 1396.5,199.4C1399.9,200.0 1406.7,200.6 1412.1,200.6C1417.5,200.6 1425.1,199.1 1429.0,199.4C1432.9,199.7 1433.1,203.0 1435.6,202.5C1438.1,202.0 1442.0,196.4 1444.1,196.4C1446.2,196.4 1445.8,202.1 1448.3,202.5C1450.8,202.9 1454.9,199.8 1459.1,198.8C1463.3,197.8 1469.6,196.1 1473.6,196.4C1475.0,196.5 1482.2,200.4 1483.2,200.6C1484.2,200.8 1489.4,199.6 1490.4,200.0C1491.4,200.4 1499.0,206.5 1500.0,206.7C1501.0,206.8 1506.6,203.2 1507.3,202.5C1508.0,201.8 1511.6,194.6 1512.1,195.2C1512.6,195.8 1515.8,213.0 1516.3,212.7C1516.8,212.4 1519.9,191.5 1520.5,191.0C1521.1,190.5 1525.6,202.9 1525.9,203.7" fill="none" stroke="#FF0000" stroke-width="5.8" stroke-linejoin="round" stroke-linecap="butt"/>
<path d="M141.5,1128.0C147.1,1128.5 164.3,1130.0 175.0,1131.0C185.7,1132.0 200.3,1131.5 205.9,1134.0C211.5,1136.5 207.5,1142.3 208.3,1146.0C209.1,1149.7 209.7,1155.6 210.7,1156.3C211.7,1157.0 213.3,1152.7 214.5,1150.0C215.7,1147.3 216.8,1141.3 217.9,1140.0C219.0,1138.7 220.1,1140.9 221.0,1142.0C221.9,1143.1 222.4,1149.1 223.3,1146.7C224.2,1144.3 225.0,1133.0 226.3,1127.4C227.6,1121.8 229.7,1119.2 231.1,1113.0C232.5,1106.8 233.6,1096.8 234.8,1090.0C236.0,1083.2 237.2,1077.0 238.4,1072.0C239.6,1067.0 240.4,1068.2 242.0,1060.0C243.6,1051.8 245.2,1042.9 247.9,1023.0C250.6,1003.1 254.6,969.4 258.2,940.6C261.8,911.8 265.4,880.2 269.5,850.3C273.6,820.4 279.8,783.3 282.5,761.0C285.2,738.7 284.8,725.6 286.0,716.7C287.2,707.8 288.0,716.7 289.6,707.7C291.2,698.7 293.7,677.5 295.9,662.5C298.1,647.5 301.0,626.4 302.8,617.4C304.6,608.4 305.4,615.9 306.8,608.4C308.2,600.9 309.9,581.4 311.3,572.2C312.8,563.0 314.1,559.0 315.5,553.0C316.9,547.0 318.5,543.8 319.8,536.1C321.1,528.4 322.0,515.4 323.4,506.7C324.8,498.0 326.2,488.7 327.9,484.2C329.5,479.7 331.6,484.9 333.3,479.6C335.0,474.3 336.1,461.2 337.9,452.5C339.7,443.8 341.6,432.9 344.2,427.3C346.8,421.7 350.9,423.2 353.2,419.1C355.4,415.0 355.6,406.9 357.7,402.9C359.8,398.8 363.0,397.7 365.9,394.8C368.8,391.9 372.2,388.7 374.9,385.7C377.6,382.7 379.9,377.6 382.1,376.7C384.4,375.8 386.8,381.6 388.4,380.3C390.0,379.0 390.3,371.0 392.0,368.6C393.7,366.2 395.8,368.6 398.4,365.9C401.0,363.2 404.1,356.8 407.4,352.3C410.7,347.8 414.6,341.8 418.2,338.8C421.8,335.8 425.8,334.4 429.1,334.2C432.4,334.0 434.8,335.6 438.1,337.9C441.4,340.2 445.3,345.1 448.9,347.8C452.5,350.5 456.2,353.2 459.8,354.1C463.4,355.0 467.6,354.2 470.6,353.2C473.6,352.2 475.4,351.0 477.8,348.3C480.2,345.6 482.5,342.0 485.0,337.0C487.5,332.0 489.9,324.8 493.0,318.5C496.1,312.2 500.4,305.6 503.6,299.3C506.8,293.1 508.6,287.4 512.0,281.0C515.4,274.6 519.9,266.9 523.9,260.8C527.9,254.6 531.8,249.0 535.9,244.1C540.0,239.1 544.0,235.2 548.5,231.0C552.9,226.8 557.5,222.9 562.7,218.7C568.0,214.4 573.8,209.7 579.7,205.3C585.7,200.9 592.2,196.3 598.5,192.3C604.9,188.4 611.4,184.7 617.8,181.4C624.2,178.1 630.6,175.2 637.1,172.5C643.5,169.7 652.2,166.6 656.6,164.9C661.1,163.3 661.3,163.4 663.6,162.7C665.9,161.9 668.2,161.2 670.5,160.5C672.9,159.8 675.4,158.8 677.5,158.2C679.6,157.7 681.3,157.5 683.2,157.0C685.1,156.5 686.9,155.8 688.8,155.2C690.7,154.7 692.6,154.3 694.5,153.8C696.4,153.3 698.2,152.8 700.2,152.3C702.1,151.8 704.2,151.4 706.1,150.9C708.1,150.4 710.1,149.7 712.1,149.2C714.1,148.7 716.1,148.5 718.1,148.0C720.1,147.6 722.0,147.0 724.0,146.6C726.1,146.1 728.1,145.7 730.1,145.2C732.1,144.8 734.1,144.5 736.1,143.9C738.1,143.4 740.1,142.4 742.2,141.9C744.2,141.4 746.2,141.2 748.2,140.8C750.2,140.4 752.2,139.9 754.2,139.5C756.2,139.1 758.2,138.5 760.2,138.2C762.2,137.9 764.2,137.9 766.2,137.6C768.2,137.3 770.2,136.9 772.2,136.4C774.3,135.9 776.3,135.1 778.3,134.7C780.3,134.4 782.3,134.6 784.3,134.4C786.3,134.1 788.3,133.7 790.3,133.2C792.3,132.8 794.3,132.1 796.3,131.7C798.3,131.3 800.3,131.2 802.3,130.9C804.3,130.7 806.3,130.4 808.3,130.0C810.4,129.6 812.4,129.1 814.4,128.7C816.4,128.3 818.4,127.9 820.4,127.6C822.4,127.4 824.4,127.5 826.4,127.2C828.4,126.9 830.4,126.2 832.5,125.9C834.5,125.5 836.5,125.3 838.5,125.1C840.5,124.9 842.6,124.7 844.5,124.5C846.4,124.3 848.2,124.0 850.0,123.7C851.9,123.5 853.8,123.2 855.6,123.0C857.5,122.9 859.3,123.1 861.1,123.0C863.0,122.9 864.9,122.5 866.7,122.4C868.6,122.3 870.4,122.5 872.2,122.4C874.1,122.2 875.9,121.7 877.8,121.5C879.6,121.3 881.5,121.3 883.4,121.1C885.2,121.0 887.0,120.7 888.9,120.5C890.8,120.3 892.6,120.3 894.5,120.2C896.3,120.0 898.1,119.7 900.0,119.5C901.9,119.3 903.9,119.2 905.8,119.1C907.8,118.9 909.7,118.5 911.7,118.5C913.6,118.4 915.6,118.9 917.5,118.9C919.4,118.9 921.4,118.7 923.3,118.5C925.3,118.3 927.2,118.1 929.2,117.9C931.1,117.8 933.1,117.6 935.0,117.4C936.9,117.2 938.9,116.8 940.8,116.6C942.8,116.3 944.7,116.2 946.7,116.1C948.6,116.0 950.5,116.1 952.5,116.0C954.5,115.9 956.5,115.7 958.5,115.5C960.5,115.3 962.5,115.0 964.5,115.0C966.6,115.0 968.6,115.6 970.6,115.6C972.6,115.6 974.6,115.0 976.6,114.9C978.6,114.8 980.6,115.3 982.6,115.2C984.6,115.1 986.6,114.4 988.6,114.4C990.6,114.3 992.6,114.9 994.7,114.9C996.7,114.9 998.7,114.7 1000.7,114.5C1002.7,114.3 1004.7,114.0 1006.7,113.8C1008.7,113.6 1010.7,113.1 1012.7,113.0C1014.7,112.9 1016.7,113.0 1018.7,113.1C1020.7,113.3 1022.7,113.9 1024.8,113.9C1026.8,113.9 1028.8,113.2 1030.8,113.2C1032.8,113.1 1034.8,113.7 1036.8,113.7C1038.8,113.7 1040.8,113.0 1042.8,112.9C1044.8,112.8 1046.7,112.9 1048.7,112.9C1050.7,112.8 1052.6,112.4 1054.6,112.5C1056.6,112.6 1058.5,113.2 1060.5,113.4C1062.5,113.6 1064.4,113.8 1066.4,113.7C1068.4,113.7 1070.3,113.3 1072.3,113.1C1074.3,113.0 1076.2,112.9 1078.2,113.0C1080.2,113.0 1082.1,113.3 1084.1,113.4C1086.1,113.6 1088.1,113.6 1090.0,113.8C1091.9,114.0 1093.7,114.4 1095.5,114.5C1097.4,114.5 1099.2,114.4 1101.0,114.2C1102.9,114.0 1104.7,113.4 1106.6,113.2C1108.4,113.1 1110.3,113.4 1112.1,113.4C1113.9,113.4 1115.8,113.2 1117.6,113.2C1119.5,113.2 1121.3,113.0 1123.2,113.1C1125.0,113.3 1126.8,114.1 1128.7,114.3C1130.5,114.4 1132.3,114.0 1134.2,113.8C1136.1,113.6 1138.2,113.3 1140.2,113.3C1142.2,113.4 1144.2,113.9 1146.2,114.0C1148.3,114.1 1150.3,113.9 1152.3,113.9C1154.3,113.8 1156.3,113.4 1158.3,113.5C1160.3,113.6 1162.3,114.4 1164.3,114.4C1166.3,114.4 1168.3,113.5 1170.3,113.5C1172.3,113.5 1174.3,114.3 1176.4,114.3C1178.4,114.4 1180.4,113.6 1182.4,113.5C1184.4,113.5 1186.4,114.0 1188.4,114.2C1190.4,114.4 1192.4,114.4 1194.4,114.5C1196.4,114.6 1198.4,114.5 1200.4,114.6C1202.4,114.7 1204.4,114.8 1206.5,115.2C1208.5,115.5 1210.5,116.5 1212.5,116.8C1214.5,117.1 1216.5,117.0 1218.5,117.0C1220.5,117.0 1222.5,117.0 1224.5,116.9C1226.5,116.8 1228.5,116.5 1230.5,116.6C1232.5,116.8 1234.5,117.7 1236.5,117.7C1238.5,117.7 1240.5,116.8 1242.5,116.6C1244.6,116.5 1246.6,116.8 1248.6,117.0C1250.6,117.3 1252.6,117.9 1254.6,117.9C1256.6,118.0 1258.6,117.4 1260.6,117.4C1262.6,117.4 1264.6,117.9 1266.6,117.8C1268.6,117.7 1270.6,116.8 1272.6,116.9C1274.6,117.1 1276.6,118.6 1278.7,118.7C1280.7,118.8 1282.7,117.6 1284.7,117.4C1286.7,117.2 1288.7,117.5 1290.7,117.6C1292.7,117.8 1294.7,118.0 1296.7,118.2C1298.7,118.4 1300.7,118.9 1302.7,118.9C1304.7,119.0 1306.7,118.4 1308.7,118.3C1310.7,118.3 1312.7,118.5 1314.8,118.5C1316.8,118.5 1318.8,118.3 1320.8,118.3C1322.8,118.3 1324.8,118.4 1326.8,118.6C1328.8,118.8 1330.8,119.4 1332.8,119.6C1334.8,119.8 1336.9,119.8 1339.0,119.8C1341.1,119.7 1343.1,119.1 1345.2,119.1C1347.3,119.1 1349.3,119.8 1351.4,119.8C1353.5,119.8 1355.5,119.4 1357.6,119.3C1359.7,119.3 1361.7,119.5 1363.8,119.5C1365.9,119.5 1368.0,119.7 1370.0,119.6C1372.0,119.5 1373.6,118.2 1376.0,118.8C1378.4,119.4 1382.2,122.7 1384.4,123.0C1386.6,123.3 1387.7,120.6 1389.3,120.6C1390.9,120.6 1391.9,122.9 1394.1,123.0C1396.3,123.1 1398.5,121.1 1402.5,121.2C1406.5,121.3 1414.2,123.7 1418.2,123.6C1422.2,123.5 1424.4,120.7 1426.6,120.6C1428.8,120.5 1429.9,123.1 1431.4,123.0C1432.9,122.9 1434.2,120.0 1435.6,120.0C1437.0,120.0 1438.3,122.9 1439.8,123.0C1441.3,123.1 1442.7,120.5 1444.7,120.6C1446.7,120.7 1449.5,123.8 1451.9,123.6C1454.3,123.4 1456.7,118.5 1459.1,119.4C1461.5,120.3 1464.5,127.4 1466.3,129.0C1466.9,129.6 1469.5,130.0 1469.9,129.0C1470.3,128.0 1472.9,112.3 1473.6,112.7C1474.3,113.1 1481.0,136.1 1482.0,136.2C1483.0,136.3 1489.6,115.3 1490.4,114.6C1491.2,113.9 1494.7,122.6 1495.2,124.2C1495.7,125.8 1498.9,142.6 1499.4,141.6C1499.9,140.6 1503.2,109.0 1503.7,107.9C1504.2,106.8 1508.0,122.0 1508.5,123.0C1509.0,124.0 1511.6,124.6 1512.1,125.4C1512.6,126.2 1516.4,136.7 1516.9,135.6C1517.4,134.5 1520.0,108.5 1520.5,107.3C1521.0,106.1 1525.0,115.9 1525.3,116.4" fill="none" stroke="#930000" stroke-width="5.8" stroke-linejoin="round" stroke-linecap="butt"/>
<line x1="697.8" y1="346.8" x2="485.9" y2="368.2" stroke="#009EFF" stroke-width="6"/>
<polygon points="443.1,372.5 486.9,358.0 488.9,377.9" fill="#009EFF"/>
<line x1="703.8" y1="425.5" x2="481.3" y2="432.0" stroke="#00CF8A" stroke-width="6"/>
<polygon points="438.3,433.3 483.0,422.0 483.6,442.0" fill="#00CF8A"/>
<line x1="309.2" y1="367.3" x2="416.9" y2="431.2" stroke="#FA32FA" stroke-width="6"/>
<polygon points="453.9,453.2 410.1,438.8 420.3,421.6" fill="#FA32FA"/>
<line x1="502.7" y1="530.2" x2="483.5" y2="508.7" stroke="#FF0000" stroke-width="6.4"/>
<polygon points="454.6,476.2 492.7,503.2 477.0,517.2" fill="#FF0000"/>
<line x1="438.8" y1="150.0" x2="434.4" y2="299.6" stroke="#7A003C" stroke-width="5.6"/>
<polygon points="433.1,343.0 424.4,297.3 444.4,297.9" fill="#7A003C"/>
<line x1="446.5" y1="375" x2="446.5" y2="1239" stroke="#009EFF" stroke-width="3"/>
<line x1="456.4" y1="476" x2="456.4" y2="1240" stroke="#FF0000" stroke-width="3"/>
<line x1="433.1" y1="330" x2="433.1" y2="1238" stroke="#7A003C" stroke-width="4"/>
<line x1="141.7" y1="1237" x2="141.7" y2="1249" stroke="#000" stroke-width="5"/>
<line x1="248.1" y1="1237" x2="248.1" y2="1261" stroke="#000" stroke-width="6"/>
<text x="248.1" y="1315" font-size="50.6" text-anchor="middle">300</text>
<line x1="354.5" y1="1237" x2="354.5" y2="1249" stroke="#000" stroke-width="5"/>
<line x1="460.9" y1="1237" x2="460.9" y2="1261" stroke="#000" stroke-width="6"/>
<text x="460.9" y="1315" font-size="50.6" text-anchor="middle">400</text>
<line x1="567.3" y1="1237" x2="567.3" y2="1249" stroke="#000" stroke-width="5"/>
<line x1="673.7" y1="1237" x2="673.7" y2="1261" stroke="#000" stroke-width="6"/>
<text x="673.7" y="1315" font-size="50.6" text-anchor="middle">500</text>
<line x1="780.1" y1="1237" x2="780.1" y2="1249" stroke="#000" stroke-width="5"/>
<line x1="886.5" y1="1237" x2="886.5" y2="1261" stroke="#000" stroke-width="6"/>
<text x="886.5" y="1315" font-size="50.6" text-anchor="middle">600</text>
<line x1="992.9" y1="1237" x2="992.9" y2="1249" stroke="#000" stroke-width="5"/>
<line x1="1099.3" y1="1237" x2="1099.3" y2="1261" stroke="#000" stroke-width="6"/>
<text x="1099.3" y="1315" font-size="50.6" text-anchor="middle">700</text>
<line x1="1205.7" y1="1237" x2="1205.7" y2="1249" stroke="#000" stroke-width="5"/>
<line x1="1312.1" y1="1237" x2="1312.1" y2="1261" stroke="#000" stroke-width="6"/>
<text x="1312.1" y="1315" font-size="50.6" text-anchor="middle">800</text>
<line x1="1418.5" y1="1237" x2="1418.5" y2="1249" stroke="#000" stroke-width="5"/>
<line x1="1524.9" y1="1237" x2="1524.9" y2="1261" stroke="#000" stroke-width="6"/>
<text x="1524.9" y="1315" font-size="50.6" text-anchor="middle">900</text>
<line x1="1631.3" y1="1237" x2="1631.3" y2="1249" stroke="#000" stroke-width="5"/>
<text x="888" y="1412.8" font-size="63" text-anchor="middle">Wavelength (nm)</text>
<text transform="translate(75.2,645) rotate(-90)" font-size="62.4" text-anchor="middle">Transmittance</text>
<line x1="712" y1="548.5" x2="852" y2="548.5" stroke="#009EFF" stroke-width="5.2" stroke-linecap="round"/>
<text x="868" y="569.3" font-size="62.2">Sputtering time with 10 min</text>
<line x1="712" y1="625.1" x2="852" y2="625.1" stroke="#00CF8A" stroke-width="5.2" stroke-linecap="round"/>
<text x="868" y="646.0" font-size="62.2">Sputtering time with 20 min</text>
<line x1="712" y1="701.7" x2="852" y2="701.7" stroke="#FA32FA" stroke-width="5.2" stroke-linecap="round"/>
<text x="868" y="722.7" font-size="62.2">Sputtering time with 30 min</text>
<line x1="712" y1="778.3" x2="852" y2="778.3" stroke="#FF0000" stroke-width="5.2" stroke-linecap="round"/>
<text x="868" y="799.3" font-size="62.2">Sputtering time with 40 min</text>
<line x1="712" y1="854.9" x2="852" y2="854.9" stroke="#930000" stroke-width="5.2" stroke-linecap="round"/>
<text x="868" y="876.0" font-size="62.2">Sputtering time with 0 min</text>
<text x="369.4" y="137.2" font-size="50.7" fill="#7A003C" textLength="190.5" lengthAdjust="spacing">(385, 66)</text>
<text x="182.4" y="338.7" font-size="50.1" fill="#FA32FA" textLength="190.2" lengthAdjust="spacing">(393, 57)</text>
<text x="718.5" y="355.0" font-size="49.2" fill="#009EFF" textLength="186.3" lengthAdjust="spacing">(392, 58)</text>
<text x="716.4" y="436.0" font-size="50.1" fill="#00CF8A" textLength="190.6" lengthAdjust="spacing">(392, 58)</text>
<text x="510.9" y="542.0" font-size="49.9" fill="#FF0000" textLength="190.8" lengthAdjust="spacing">(396, 55)</text>
</svg>
</body></html>
